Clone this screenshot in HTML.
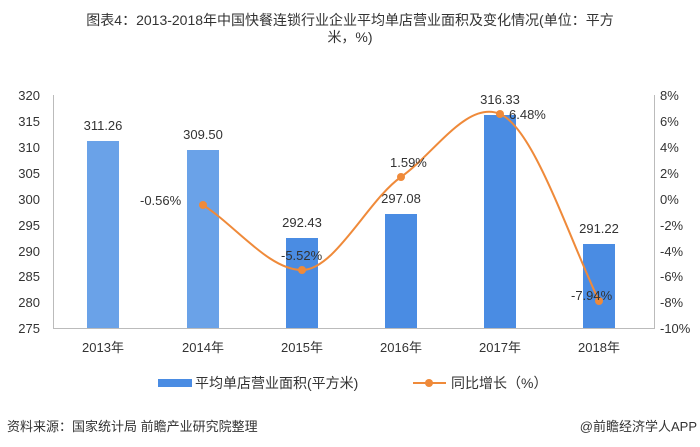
<!DOCTYPE html>
<html><head><meta charset="utf-8"><style>
body{margin:0;background:#fff;}
svg{display:block;font-family:"Liberation Sans","Noto Sans CJK SC",sans-serif;}
</style></head><body>
<svg width="700" height="447" viewBox="0 0 700 447">
<text x="350" y="25" text-anchor="middle" font-size="14" fill="#333">图表4：2013-2018年中国快餐连锁行业企业平均单店营业面积及变化情况(单位：平方</text>
<text x="350" y="42" text-anchor="middle" font-size="14" fill="#333">米，%)</text>
<g stroke="#bbb" stroke-width="1">
<line x1="53.5" y1="95" x2="53.5" y2="328"/>
<line x1="654.5" y1="95" x2="654.5" y2="328"/>
<line x1="53" y1="328.5" x2="655" y2="328.5"/>
</g>
<g font-size="13" fill="#333" text-anchor="end">
<text x="40" y="100">320</text><text x="40" y="126">315</text><text x="40" y="152">310</text><text x="40" y="178">305</text><text x="40" y="204">300</text><text x="40" y="230">295</text><text x="40" y="256">290</text><text x="40" y="281">285</text><text x="40" y="307">280</text><text x="40" y="333">275</text>
</g>
<g font-size="13" fill="#333" text-anchor="start">
<text x="660" y="100">8%</text><text x="660" y="126">6%</text><text x="660" y="152">4%</text><text x="660" y="178">2%</text><text x="660" y="204">0%</text><text x="660" y="230">-2%</text><text x="660" y="256">-4%</text><text x="660" y="281">-6%</text><text x="660" y="307">-8%</text><text x="660" y="333">-10%</text>
</g>
<g>
<rect x="87" y="141" width="32" height="187" fill="#6aa2e8"/>
<rect x="187" y="150" width="32" height="178" fill="#6aa2e8"/>
<rect x="286" y="238" width="32" height="90" fill="#4a8ce3"/>
<rect x="385" y="214" width="32" height="114" fill="#4a8ce3"/>
<rect x="484" y="115" width="32" height="213" fill="#4a8ce3"/>
<rect x="583" y="244" width="32" height="84" fill="#4a8ce3"/>
</g>
<g font-size="13" fill="#333" text-anchor="middle">
<text x="103" y="130">311.26</text><text x="203" y="139">309.50</text><text x="302" y="227">292.43</text><text x="401" y="203">297.08</text><text x="500" y="104">316.33</text><text x="599" y="233">291.22</text>
</g>
<path d="M203,205 C236,226 269,270 302,270 C335,270 368,200 401,177 C434,154 467,100 500,114 C533,128 566,230 599,301" fill="none" stroke="#ef8a3a" stroke-width="2"/>
<g fill="#ef8a3a">
<circle cx="203" cy="205" r="4"/><circle cx="302" cy="270" r="4"/><circle cx="401" cy="177" r="4"/><circle cx="500" cy="114" r="4"/><circle cx="599" cy="301" r="4"/>
</g>
<g font-size="13" fill="#333">
<text x="140" y="205">-0.56%</text><text x="281" y="260">-5.52%</text><text x="390" y="167">1.59%</text><text x="509" y="119">6.48%</text><text x="571" y="300">-7.94%</text>
</g>
<g font-size="13" fill="#333" text-anchor="middle">
<text x="103" y="352">2013年</text><text x="203" y="352">2014年</text><text x="302" y="352">2015年</text><text x="401" y="352">2016年</text><text x="500" y="352">2017年</text><text x="599" y="352">2018年</text>
</g>
<rect x="158" y="379" width="34" height="8" fill="#4a8ce3"/>
<text x="195" y="388" font-size="14" fill="#333">平均单店营业面积(平方米)</text>
<line x1="413" y1="383" x2="446" y2="383" stroke="#ef8a3a" stroke-width="2"/>
<circle cx="429" cy="383" r="4" fill="#ef8a3a"/>
<text x="451" y="388" font-size="14" fill="#333">同比增长（%）</text>
<text x="7" y="431" font-size="13" fill="#333">资料来源：国家统计局 前瞻产业研究院整理</text>
<text x="697" y="431" font-size="13" fill="#333" text-anchor="end">@前瞻经济学人APP</text>
</svg>
</body></html>
